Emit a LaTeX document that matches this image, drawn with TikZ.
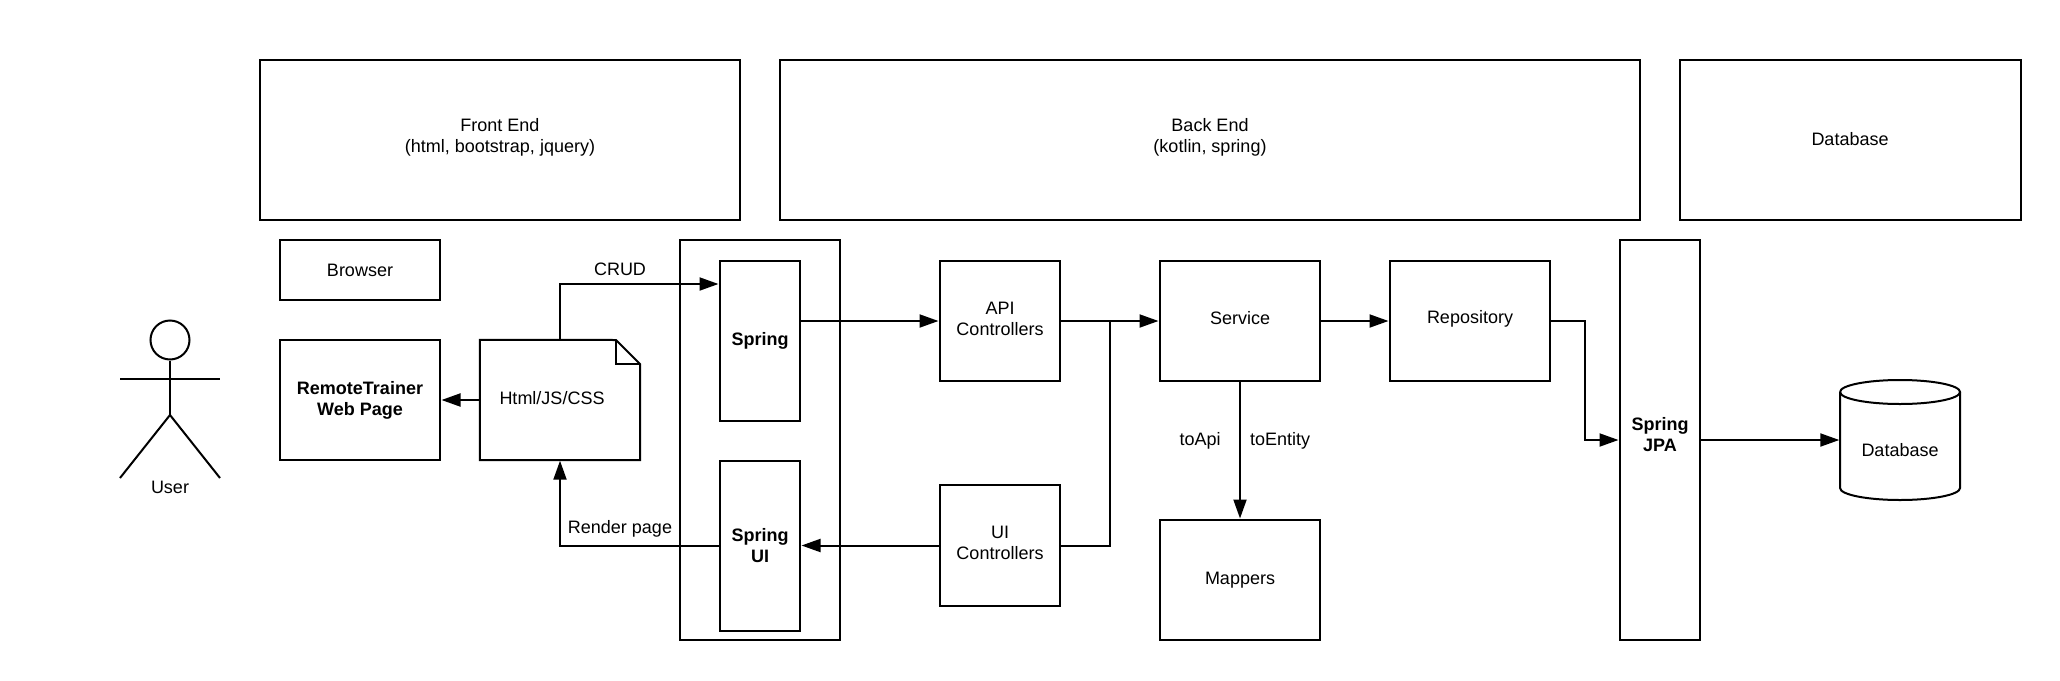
\documentclass[tikz,border=0pt]{standalone}
\usepackage{fontspec}
\setmainfont{Liberation Sans}
\usetikzlibrary{arrows.meta,calc}

\begin{document}
\begin{tikzpicture}[x=1pt,y=-1pt,
    font=\fontsize{18}{21}\selectfont,
    box/.style ={rectangle, draw, line width=2pt, align=center, inner sep=0pt},
    boldbox/.style ={box, font=\fontsize{18}{21}\selectfont\bfseries},
    caption/.style ={inner sep=0pt, align=center},
    line/.style ={line width=2pt},
    link/.style ={line width=2pt, -{Triangle[length=19pt,width=13pt]}, shorten >=0.5pt}]
   \useasboundingbox (0,0) rectangle (2060,680);

   % top row
   \node[box, minimum width=480pt, minimum height=160pt] (FrontEnd) at (500,140)  {};
   \node[box, minimum width=860pt, minimum height=160pt] (BackEnd) at (1210,140)  {};
   \node[box, minimum width=341pt, minimum height=160pt] (DataTier) at (1850,140)  {};
   \node[caption] (FrontText) at (500,137)  {Front End\\(html, bootstrap, jquery)};
   \node[caption] (BackText) at (1210,137)  {Back End\\(kotlin, spring)};
   \node[caption] (DataText) at (1850,139)  {Database};

   % user
   \node[circle, draw, line width=2pt, minimum size=39pt, inner sep=0pt] (Head) at (170,340)  {};
   \coordinate (ArmL) at (120,379);
   \coordinate (ArmR) at (220,379);
   \coordinate (Hip) at (170,415);
   \coordinate (FootL) at (120,478);
   \coordinate (FootR) at (220,478);
   \node[caption] (User) at (170,487)  {User};
   \draw[line] (Head) to  (Hip);
   \draw[line] (ArmL) to  (ArmR);
   \draw[line] (FootL) to  (Hip);
   \draw[line] (Hip) to  (FootR);

   % browser side
   \node[box, minimum width=160pt, minimum height=60pt] (Browser) at (360,270)  {Browser};
   \node[boldbox, minimum width=160pt, minimum height=120pt] (WebPage) at (360,400)  {RemoteTrainer\\Web Page};
   \node[minimum width=160pt, minimum height=120pt, inner sep=0pt] (Html) at (560,400)  {};
   \node[caption] (HtmlText) at (552,398)  {Html/JS/CSS};
   \coordinate (FoldA) at (616,340);
   \coordinate (FoldB) at (640,364);
   \coordinate (FoldC) at (616,364);
   \draw[line, line join=miter] (Html.south west) -- (Html.north west) -- (FoldA) -- (FoldB) -- (Html.south east) -- cycle;
   \draw[line] (FoldA) -- (FoldC) -- (FoldB);

   % spring
   \node[box, minimum width=160pt, minimum height=400pt] (SpringOuter) at (760,440)  {};
   \node[boldbox, minimum width=80pt, minimum height=160pt] (Spring) at (760,341)  {Spring};
   \node[boldbox, minimum width=80pt, minimum height=170pt] (SpringUI) at (760,545.5)  {Spring\\UI};

   % back end
   \node[box, minimum width=120pt, minimum height=120pt] (ApiCtrl) at (1000,321)  {};
   \node[box, minimum width=120pt, minimum height=121pt] (UiCtrl) at (1000,545.5)  {};
   \node[caption] (ApiText) at (1000,319)  {API\\Controllers};
   \node[caption] (UiText) at (1000,543)  {UI\\Controllers};
   \node[box, minimum width=160pt, minimum height=120pt] (Service) at (1240,321)  {};
   \node[caption] (ServiceText) at (1240,318)  {Service};
   \node[box, minimum width=160pt, minimum height=120pt] (Mappers) at (1240,580)  {Mappers};
   \node[box, minimum width=160pt, minimum height=120pt] (Repository) at (1470,321)  {};
   \node[caption] (RepositoryText) at (1470,319)  {Repository};
   \node[box, minimum width=80pt, minimum height=400pt] (SpringJpa) at (1660,440)  {};
   \node[caption, font=\fontsize{18}{21}\selectfont\bfseries] (JpaText) at (1660,435)  {Spring\\JPA};

   % database drum
   \node[minimum width=120pt, minimum height=120pt, inner sep=0pt] (Database) at (1900,440)  {};
   \node[caption] (DatabaseText) at (1900,450)  {Database};
   \coordinate (DrumTop) at (1840,392);
   \coordinate (DrumBottom) at (1840,488);
   \draw[line] (DrumTop) arc[start angle=180, end angle=-180, x radius=60pt, y radius=12pt];
   \draw[line] (DrumTop) -- (DrumBottom) arc[start angle=180, end angle=360, x radius=60pt, y radius=12pt] -- (1960,392);

   % connectors
   \coordinate (CrudIn) at (Spring.west |- 0,284);
   \coordinate (Merge) at (1110,321);
   \coordinate (Elbow) at (1585,321);
   \draw[link] (Html.west) to  (WebPage.east);
   \draw[link] (Html.north) |- (CrudIn);
   \draw[link] (SpringUI.west) -| (Html.south);
   \draw[link] (Spring.east |- ApiCtrl.west) to  (ApiCtrl.west);
   \draw[link] (ApiCtrl.east) to  (Service.west);
   \draw[line] (UiCtrl.east) -| (Merge);
   \draw[link] (UiCtrl.west) to  (SpringUI.east |- UiCtrl.west);
   \draw[link] (Service.east) to  (Repository.west);
   \draw[link] (Service.south) to  (Mappers.north);
   \draw[link] (Repository.east) -- (Elbow) |- (SpringJpa.west);
   \draw[link] (SpringJpa.east) to  (Database.west |- SpringJpa.east);

   % labels
   \node[caption] (CrudText) at (620,269)  {CRUD};
   \node[caption] (RenderText) at (620,529)  {Render page};
   \node[caption] (ToApi) at (1200,441)  {toApi};
   \node[caption] (ToEntity) at (1280,441)  {toEntity};
 \end{tikzpicture}
\end{document}
